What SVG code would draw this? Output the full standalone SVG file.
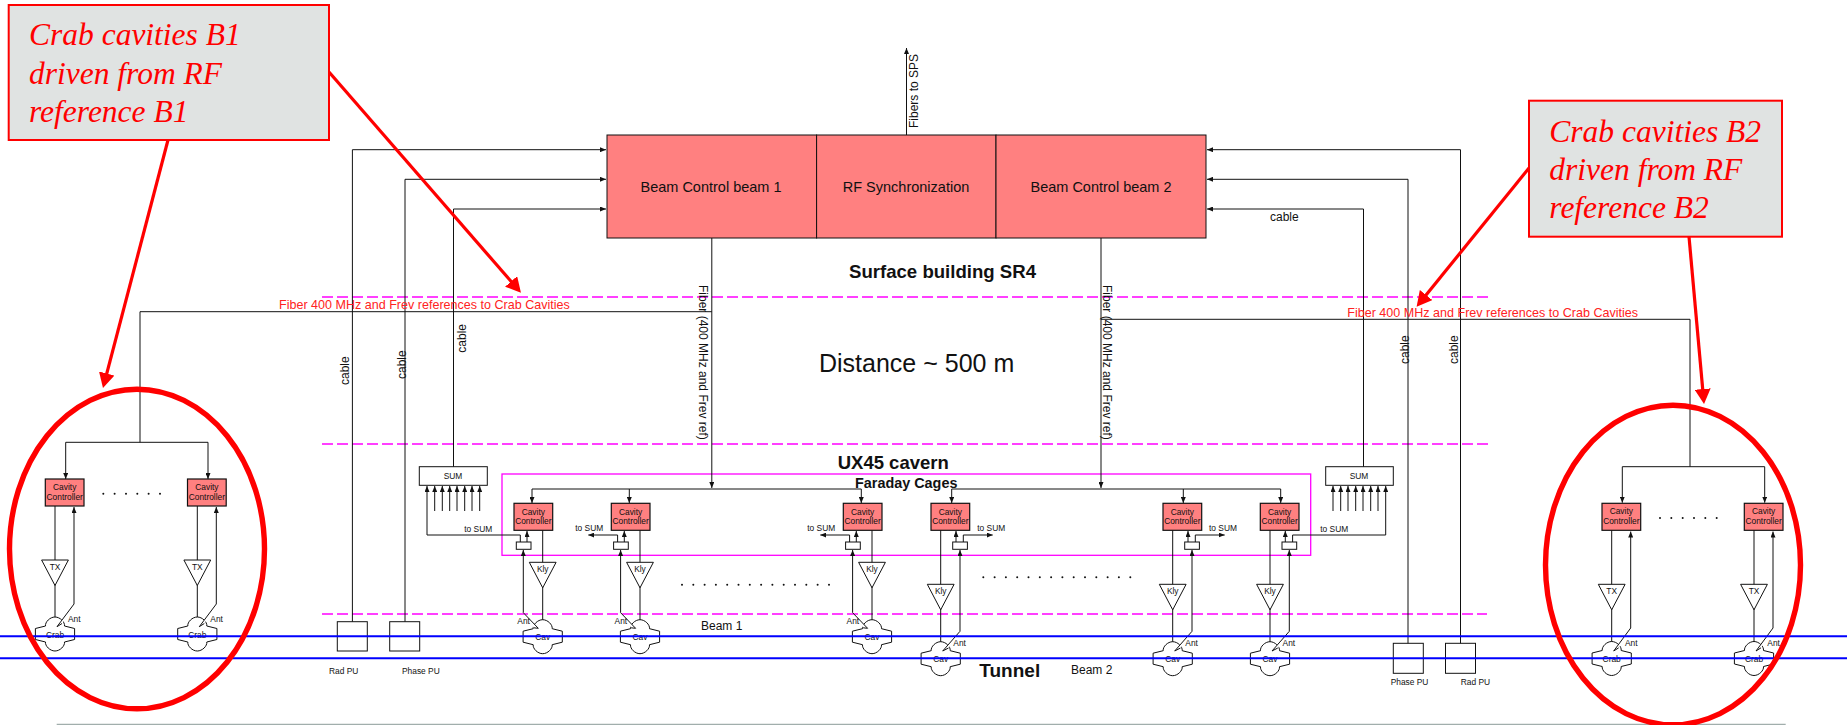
<svg xmlns="http://www.w3.org/2000/svg" width="1847" height="725" viewBox="0 0 1847 725">
<style>
text{font-family:"Liberation Sans",Arial,sans-serif;fill:#111}
.c{text-anchor:middle}
.s8{font-size:8.4px}
.t12{font-size:12px}
.b{font-weight:bold}
.big{font-size:14.5px}
.call{font-family:"Liberation Serif","Times New Roman",serif;font-style:italic;font-size:31.5px;fill:#f00}
.red{font-size:12.55px;fill:#f22}
.ln{fill:none;stroke:#111;stroke-width:1}
.ar{marker-end:url(#a)}
.mag{fill:none;stroke:#f0f;stroke-width:1.3;stroke-dasharray:11 4}
.cc{fill:#ff8080;stroke:#111;stroke-width:1.2}
.w{fill:#fff;stroke:#111;stroke-width:1}
.main{fill:#ff8080;stroke:#111;stroke-width:1}
.beam{fill:none;stroke:#00f;stroke-width:2}
.rl{fill:none;stroke:#f00;stroke-width:3.2;marker-end:url(#r)}
.ring{fill:none;stroke:#f00;stroke-width:5.4}
.box{fill:#e0e3e2;stroke:#f00;stroke-width:2}
</style>
<defs>
<marker id="a" markerUnits="userSpaceOnUse" markerWidth="6" markerHeight="5" refX="6" refY="2.5" orient="auto"><path d="M0,0L6,2.5L0,5Z" fill="#111"/></marker>
<marker id="r" markerUnits="userSpaceOnUse" markerWidth="17" markerHeight="16" refX="9" refY="8" orient="auto"><path d="M0,0L15,8L0,16Z" fill="#f00"/></marker>
<path id="cav" class="w" d="M-19.6,-5.5L-9.5,-8C-10,-12-5,-17 0,-17C5,-17 10,-12 9.5,-8L19.6,-5.5V5.5L9.5,8C10,12 5,17 0,17C-5,17-10,12-9.5,8L-19.6,5.5Z"/>
<path id="tri" class="w" d="M-13.4,0H13.4L0,25.5Z"/>
</defs>

<g id="level-lines">
<path class="mag" d="M322,297H1491"/>
<path class="mag" d="M322,444H1491"/>
<path class="mag" d="M322,614H1487"/>
<rect id="faraday-cage" x="502" y="474" width="808.7" height="81.3" fill="none" stroke="#f0f" stroke-width="1.3"/>
</g>

<g id="connectors">
<path class="ln ar" d="M906.5,135V48"/>
<path class="ln ar" d="M352.4,622V149.7H606"/>
<path class="ln ar" d="M405,622V179.3H606"/>
<path class="ln ar" d="M453.5,467V209H606"/>
<path class="ln ar" d="M1460.5,644V149.7H1207"/>
<path class="ln ar" d="M1408,644V179.3H1207"/>
<path class="ln ar" d="M1363.5,467V209H1207"/>
<path class="ln ar" d="M711.8,238V488"/>
<path class="ln ar" d="M1101,238V488"/>
<path class="ln" d="M711.8,311.7H140V442.3"/>
<path class="ln" d="M1101,319.3H1690V466.7"/>
<path class="ln ar" d="M140,442.3H65.7V479"/>
<path class="ln ar" d="M140,442.3H208V479"/>
<path class="ln ar" d="M1690,466.7H1622.3V502.7"/>
<path class="ln ar" d="M1690,466.7H1764.7V502.7"/>
<path class="ln" d="M532,489H861.3"/>
<path class="ln" d="M951.7,489H1280.7"/>
<path class="ln ar" d="M532,489V503"/><path class="ln ar" d="M629.3,489V503"/><path class="ln ar" d="M861.3,489V503"/>
<path class="ln ar" d="M951.7,489V503"/><path class="ln ar" d="M1183.3,489V503"/><path class="ln ar" d="M1280.7,489V503"/>
<path class="ln ar" d="M434.7,511V486"/><path class="ln ar" d="M442.3,511V486"/><path class="ln ar" d="M449.7,511V486"/><path class="ln ar" d="M457,511V486"/><path class="ln ar" d="M464.7,511V486"/><path class="ln ar" d="M472,511V486"/><path class="ln ar" d="M479.7,511V486"/>
<path class="ln ar" d="M1333,511V486"/><path class="ln ar" d="M1340.7,511V486"/><path class="ln ar" d="M1348,511V486"/><path class="ln ar" d="M1355.7,511V486"/><path class="ln ar" d="M1363,511V486"/><path class="ln ar" d="M1370.7,511V486"/><path class="ln ar" d="M1378,511V486"/>
<path class="ln ar" d="M520.3,542V535H427V486"/>
<path class="ln ar" d="M617.6,542V535H588.3"/>
<path class="ln ar" d="M849.6,542V535H820.3"/>
<path class="ln ar" d="M963.3,542V535H992.7"/>
<path class="ln ar" d="M1195.3,542V535H1224.7"/>
<path class="ln ar" d="M1292.6,542V535H1385.7V486"/>
<path class="ln ar" d="M527,542V531"/><path class="ln ar" d="M624.3,542V531"/><path class="ln ar" d="M856.3,542V531"/>
<path class="ln ar" d="M956,542V531"/><path class="ln ar" d="M1188,542V531"/><path class="ln ar" d="M1285.3,542V531"/>
<path class="ln" d="M542.7,530V620"/><path class="ln" d="M640,530V620"/><path class="ln" d="M872,530V620"/>
<path class="ln" d="M940.7,530V642"/><path class="ln" d="M1172.7,530V642"/><path class="ln" d="M1270,530V642"/>
<path class="ln" d="M55,506V617"/><path class="ln" d="M197.3,506V617"/>
<path class="ln" d="M1611.7,530V642"/><path class="ln" d="M1754,530V642"/>
<path class="ln ar" d="M523.3,612.7V550"/><path class="ln ar" d="M620.6,612.7V550"/><path class="ln ar" d="M852.6,612.7V550"/>
<path class="ln ar" d="M960,631.3V550"/><path class="ln ar" d="M1192,631.3V550"/><path class="ln ar" d="M1289.3,631.3V550"/>
<path class="ln ar" d="M74,604V507"/><path class="ln ar" d="M216.3,604V507"/>
<path class="ln ar" d="M1630.7,628V531.5"/><path class="ln ar" d="M1773,628V531.5"/>
</g>

<g id="beam-control-1"><rect class="main" x="607" y="135" width="209.6" height="103"/><text class="c big" x="711" y="191.500">Beam Control beam 1</text></g>
<g id="rf-synchronization"><rect class="main" x="816.600" y="135" width="179.400" height="103"/><text class="c big" x="906" y="191.500">RF Synchronization</text></g>
<g id="beam-control-2"><rect class="main" x="996" y="135" width="210" height="103"/><text class="c big" x="1101" y="191.500">Beam Control beam 2</text></g>

<g id="sum-left"><rect class="w" x="419.300" y="466.700" width="68" height="18.600"/><text class="c s8" x="453" y="479">SUM</text></g>
<g id="sum-right"><rect class="w" x="1325.700" y="466.700" width="67.600" height="18.600"/><text class="c s8" x="1359" y="479">SUM</text></g>

<g id="cc-b1-1"><rect class="cc" x="45.300" y="479" width="38.700" height="27"/><text class="c s8" x="64.700" y="490">Cavity</text><text class="c s8" x="64.700" y="500">Controller</text></g>
<g id="cc-b1-2"><rect class="cc" x="187.500" y="479" width="38.700" height="27"/><text class="c s8" x="206.900" y="490">Cavity</text><text class="c s8" x="206.900" y="500">Controller</text></g>
<g id="tx-b1-1"><use href="#tri" x="55" y="560"/><text class="c s8" x="55" y="570">TX</text></g>
<g id="tx-b1-2"><use href="#tri" x="197.300" y="560"/><text class="c s8" x="197.300" y="570">TX</text></g>
<g id="crab-b1-1"><use href="#cav" x="55" y="634"/><path class="w" d="M74,604L57,626.700L62,623.500"/><text class="s8" x="68" y="621.700">Ant</text><text class="c s8" x="55" y="638">Crab</text></g>
<g id="crab-b1-2"><use href="#cav" x="197.300" y="634"/><path class="w" d="M216.300,604L199.300,626.700L204.300,623.500"/><text class="s8" x="210.300" y="621.700">Ant</text><text class="c s8" x="197.300" y="638">Crab</text></g>

<g id="cc-b2-1"><rect class="cc" x="1602" y="503.300" width="38.700" height="27"/><text class="c s8" x="1621.300" y="514">Cavity</text><text class="c s8" x="1621.300" y="524">Controller</text></g>
<g id="cc-b2-2"><rect class="cc" x="1744.300" y="503.300" width="38.700" height="27"/><text class="c s8" x="1763.600" y="514">Cavity</text><text class="c s8" x="1763.600" y="524">Controller</text></g>
<g id="tx-b2-1"><use href="#tri" x="1611.700" y="584.300"/><text class="c s8" x="1611.700" y="594">TX</text></g>
<g id="tx-b2-2"><use href="#tri" x="1754" y="584.300"/><text class="c s8" x="1754" y="594">TX</text></g>
<g id="crab-b2-1"><use href="#cav" x="1611.700" y="658.500"/><path class="w" d="M1630.700,628L1613.700,651L1618.700,647.800"/><text class="s8" x="1625" y="645.700">Ant</text><text class="c s8" x="1611.700" y="662">Crab</text></g>
<g id="crab-b2-2"><use href="#cav" x="1754" y="658.500"/><path class="w" d="M1773,628L1756,651L1761,647.800"/><text class="s8" x="1767.300" y="645.700">Ant</text><text class="c s8" x="1754" y="662">Crab</text></g>

<g id="cc-1"><rect class="cc" x="514" y="503.300" width="38.700" height="27"/><text class="c s8" x="533.300" y="515">Cavity</text><text class="c s8" x="533.300" y="524">Controller</text><rect class="w" x="516.300" y="542" width="14.700" height="7.300"/></g>
<g id="cc-2"><rect class="cc" x="611.300" y="503.300" width="38.700" height="27"/><text class="c s8" x="630.600" y="515">Cavity</text><text class="c s8" x="630.600" y="524">Controller</text><rect class="w" x="613.600" y="542" width="14.700" height="7.300"/></g>
<g id="cc-3"><rect class="cc" x="843.300" y="503.300" width="38.700" height="27"/><text class="c s8" x="862.600" y="515">Cavity</text><text class="c s8" x="862.600" y="524">Controller</text><rect class="w" x="845.600" y="542" width="14.700" height="7.300"/></g>
<g id="cc-4"><rect class="cc" x="931" y="503.300" width="38.700" height="27"/><text class="c s8" x="950.300" y="515">Cavity</text><text class="c s8" x="950.300" y="524">Controller</text><rect class="w" x="952.700" y="542" width="14.700" height="7.300"/></g>
<g id="cc-5"><rect class="cc" x="1163" y="503.300" width="38.700" height="27"/><text class="c s8" x="1182.300" y="515">Cavity</text><text class="c s8" x="1182.300" y="524">Controller</text><rect class="w" x="1184.700" y="542" width="14.700" height="7.300"/></g>
<g id="cc-6"><rect class="cc" x="1260.300" y="503.300" width="38.700" height="27"/><text class="c s8" x="1279.600" y="515">Cavity</text><text class="c s8" x="1279.600" y="524">Controller</text><rect class="w" x="1282" y="542" width="14.700" height="7.300"/></g>

<g id="kly-1"><use href="#tri" x="542.700" y="562.300"/><text class="c s8" x="542.700" y="571.700">Kly</text></g>
<g id="kly-2"><use href="#tri" x="640" y="562.300"/><text class="c s8" x="640" y="571.700">Kly</text></g>
<g id="kly-3"><use href="#tri" x="872" y="562.300"/><text class="c s8" x="872" y="571.700">Kly</text></g>
<g id="kly-4"><use href="#tri" x="940.700" y="584.300"/><text class="c s8" x="940.700" y="594">Kly</text></g>
<g id="kly-5"><use href="#tri" x="1172.700" y="584.300"/><text class="c s8" x="1172.700" y="594">Kly</text></g>
<g id="kly-6"><use href="#tri" x="1270" y="584.300"/><text class="c s8" x="1270" y="594">Kly</text></g>

<g id="cav-1"><use href="#cav" x="542.700" y="636.700"/><path class="w" d="M523.300,612.700L538.300,628.300L533.800,627.800"/><text class="s8" x="517.300" y="624">Ant</text><text class="c s8" x="542.700" y="640">Cav</text></g>
<g id="cav-2"><use href="#cav" x="640" y="636.700"/><path class="w" d="M620.600,612.700L635.600,628.300L631.100,627.800"/><text class="s8" x="614.600" y="624">Ant</text><text class="c s8" x="640" y="640">Cav</text></g>
<g id="cav-3"><use href="#cav" x="872" y="636.700"/><path class="w" d="M852.600,612.700L867.600,628.300L863.100,627.800"/><text class="s8" x="846.600" y="624">Ant</text><text class="c s8" x="872" y="640">Cav</text></g>
<g id="cav-4"><use href="#cav" x="940.700" y="658.700"/><path class="w" d="M960,631.300L942.700,651L948.500,648"/><text class="s8" x="953.300" y="645.700">Ant</text><text class="c s8" x="940.700" y="662">Cav</text></g>
<g id="cav-5"><use href="#cav" x="1172.700" y="658.700"/><path class="w" d="M1192,631.300L1174.700,651L1180.500,648"/><text class="s8" x="1185.300" y="645.700">Ant</text><text class="c s8" x="1172.700" y="662">Cav</text></g>
<g id="cav-6"><use href="#cav" x="1270" y="658.700"/><path class="w" d="M1289.300,631.300L1272,651L1277.800,648"/><text class="s8" x="1282.600" y="645.700">Ant</text><text class="c s8" x="1270" y="662">Cav</text></g>

<g id="rad-pu-left"><rect class="w" x="337.300" y="621.700" width="30" height="29.300"/><text class="s8" x="329" y="674">Rad PU</text></g>
<g id="phase-pu-left"><rect class="w" x="389.700" y="621.700" width="30" height="29.300"/><text class="s8" x="402" y="674">Phase PU</text></g>
<g id="phase-pu-right"><rect class="w" x="1393.300" y="643.300" width="30" height="30"/><text class="s8" x="1390.700" y="685">Phase PU</text></g>
<g id="rad-pu-right"><rect class="w" x="1445.500" y="643.300" width="30" height="30"/><text class="s8" x="1460.700" y="685">Rad PU</text></g>

<g id="dots" fill="#111">
<circle cx="103.300" cy="493.700" r="1"/><circle cx="114.600" cy="493.700" r="1"/><circle cx="126" cy="493.700" r="1"/><circle cx="137.300" cy="493.700" r="1"/><circle cx="148.600" cy="493.700" r="1"/><circle cx="160" cy="493.700" r="1"/>
<circle cx="1660" cy="518" r="1"/><circle cx="1671.300" cy="518" r="1"/><circle cx="1682.700" cy="518" r="1"/><circle cx="1694" cy="518" r="1"/><circle cx="1705.300" cy="518" r="1"/><circle cx="1716.700" cy="518" r="1"/>
<circle cx="682" cy="584.700" r="1"/><circle cx="693.300" cy="584.700" r="1"/><circle cx="704.600" cy="584.700" r="1"/><circle cx="715.900" cy="584.700" r="1"/><circle cx="727.200" cy="584.700" r="1"/><circle cx="738.500" cy="584.700" r="1"/><circle cx="749.800" cy="584.700" r="1"/><circle cx="761.100" cy="584.700" r="1"/><circle cx="772.400" cy="584.700" r="1"/><circle cx="783.700" cy="584.700" r="1"/><circle cx="795" cy="584.700" r="1"/><circle cx="806.300" cy="584.700" r="1"/><circle cx="817.600" cy="584.700" r="1"/><circle cx="829" cy="584.700" r="1"/>
<circle cx="983.300" cy="577.300" r="1"/><circle cx="994.600" cy="577.300" r="1"/><circle cx="1005.900" cy="577.300" r="1"/><circle cx="1017.200" cy="577.300" r="1"/><circle cx="1028.500" cy="577.300" r="1"/><circle cx="1039.800" cy="577.300" r="1"/><circle cx="1051.100" cy="577.300" r="1"/><circle cx="1062.400" cy="577.300" r="1"/><circle cx="1073.700" cy="577.300" r="1"/><circle cx="1085" cy="577.300" r="1"/><circle cx="1096.300" cy="577.300" r="1"/><circle cx="1107.600" cy="577.300" r="1"/><circle cx="1118.900" cy="577.300" r="1"/><circle cx="1130.300" cy="577.300" r="1"/>
</g>

<g id="labels">
<text class="t12" transform="translate(918,128) rotate(-90)">Fibers to SPS</text>
<text class="t12" transform="translate(349.300,385) rotate(-90)">cable</text>
<text class="t12" transform="translate(406,379) rotate(-90)">cable</text>
<text class="t12" transform="translate(465.700,352.700) rotate(-90)">cable</text>
<text class="t12" transform="translate(1409,364) rotate(-90)">cable</text>
<text class="t12" transform="translate(1458,364) rotate(-90)">cable</text>
<text class="t12" x="1270" y="221">cable</text>
<text class="t12" transform="translate(699,285) rotate(90)">Fiber (400 MHz and Frev ref)</text>
<text class="t12" transform="translate(1103,285) rotate(90)">Fiber (400 MHz and Frev ref)</text>
<text class="b" x="849" y="278" font-size="18.600">Surface building SR4</text>
<text x="819" y="372" font-size="25">Distance ~ 500 m</text>
<text class="b" x="837.700" y="469" font-size="18.500">UX45 cavern</text>
<text class="b" x="855" y="487.700" font-size="14.400">Faraday Cages</text>
<text class="b" x="979.300" y="676.700" font-size="19">Tunnel</text>
<text class="t12" x="701" y="630">Beam 1</text>
<text class="t12" x="1071" y="674">Beam 2</text>
<text class="s8" x="464.300" y="531.700">to SUM</text>
<text class="s8" x="575.300" y="531">to SUM</text>
<text class="s8" x="807.300" y="531">to SUM</text>
<text class="s8" x="977.300" y="531">to SUM</text>
<text class="s8" x="1209" y="531">to SUM</text>
<text class="s8" x="1320.300" y="531.700">to SUM</text>
<text class="red" x="279" y="309">Fiber 400 MHz and Frev references to Crab Cavities</text>
<text class="red" x="1347.300" y="316.700">Fiber 400 MHz and Frev references to Crab Cavities</text>
</g>

<g id="beams">
<path class="beam" d="M0,636.300H1847"/>
<path class="beam" d="M0,658.300H1847"/>
<path d="M56.700,724.300H1785.700" fill="none" stroke="#8a9a98" stroke-width="1"/>
</g>

<g id="callouts">
<ellipse class="ring" cx="137" cy="549" rx="127.500" ry="159.800"/>
<ellipse class="ring" cx="1673" cy="565" rx="127.500" ry="159.800"/>
<path class="rl" d="M168,140L104.500,382.200"/>
<path class="rl" d="M329,72L517,288.200"/>
<path class="rl" d="M1529,168L1420.400,302"/>
<path class="rl" d="M1689,236.700L1703.500,398"/>
<g id="callout-b1"><rect class="box" x="8.700" y="5" width="320.300" height="135"/>
<text class="call" x="29" y="45">Crab cavities B1</text><text class="call" x="29" y="83.500">driven from RF</text><text class="call" x="29" y="122">reference B1</text></g>
<g id="callout-b2"><rect class="box" x="1529" y="100.700" width="253" height="136"/>
<text class="call" x="1549.300" y="141.700">Crab cavities B2</text><text class="call" x="1549.300" y="180">driven from RF</text><text class="call" x="1549.300" y="218.300">reference B2</text></g>
</g>
</svg>
